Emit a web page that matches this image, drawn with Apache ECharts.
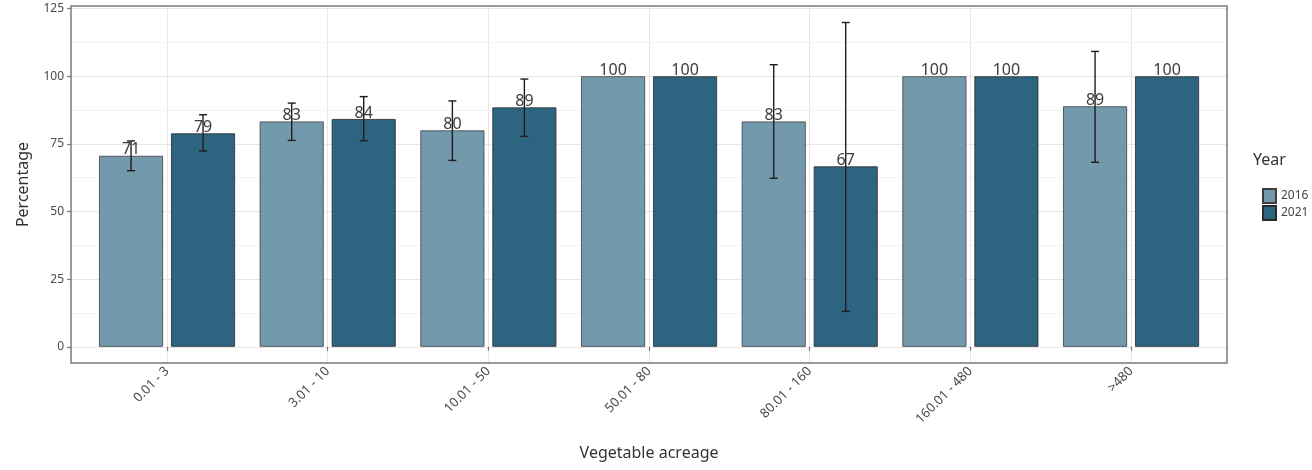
<!DOCTYPE html>
<html>
<head>
<meta charset="utf-8">
<script src="https://cdn.jsdelivr.net/npm/echarts@6/dist/echarts.min.js"></script>
<style>html,body{margin:0;padding:0;background:#fff;}#c{width:1312px;height:470px;}</style>
</head>
<body>
<div id="c"></div>
<script>
const categories = ['0.01 - 3', '3.01 - 10', '10.01 - 50', '50.01 - 80', '80.01 - 160', '160.01 - 480', '>480'];
const years = ['2016', '2021'];
const values2016 = [70.6, 83.3, 80.0, 100, 83.3, 100, 88.9];
const values2021 = [78.9, 84.2, 88.5, 100, 66.7, 100, 100];
const labels2016 = ['71', '83', '80', '100', '83', '100', '89'];
const labels2021 = ['79', '84', '89', '100', '67', '100', '100'];
const low2016 = [65.1, 76.3, 68.9, null, 62.3, null, 68.2];
const high2016 = [76.1, 90.1, 90.9, null, 104.3, null, 109.2];
const low2021 = [72.4, 76.2, 77.8, null, 13.1, null, null];
const high2021 = [85.8, 92.5, 99.0, null, 119.9, null, null];
const yTicks = [0, 25, 50, 75, 100, 125];
const yMinorTicks = [12.5, 37.5, 62.5, 87.5, 112.5];

const FONT = 'Noto Sans';
const BAR_W = 64, BAR_GAP = 8;
const OFFSET = (BAR_W + BAR_GAP) / 2;

function errData(vals, lows, highs, labels) {
  return vals.map((v, i) => [i, lows[i] == null ? '-' : lows[i], highs[i] == null ? '-' : highs[i], v, labels[i]]);
}

function makeRender(sign) {
  return function (params, api) {
    const idx = api.value(0);
    const lo = api.value(1), hi = api.value(2), v = api.value(3);
    const label = api.value(4);
    const top = api.coord([idx, v]);
    const cx = top[0] + sign * OFFSET;
    const children = [];
    if (!isNaN(lo) && !isNaN(hi) && lo !== null && hi !== null) {
      const pl = api.coord([idx, lo]);
      const ph = api.coord([idx, hi]);
      const st = { stroke: '#1e1e1e', lineWidth: 1.4 };
      children.push({ type: 'line', shape: { x1: cx, y1: pl[1], x2: cx, y2: ph[1] }, style: st });
      children.push({ type: 'line', shape: { x1: cx - 4, y1: pl[1], x2: cx + 4, y2: pl[1] }, style: st });
      children.push({ type: 'line', shape: { x1: cx - 4, y1: ph[1], x2: cx + 4, y2: ph[1] }, style: st });
    }
    children.push({
      type: 'text',
      style: {
        x: cx, y: top[1] + 2, text: String(label), align: 'center', verticalAlign: 'bottom',
        fill: '#3c3c3c', font: '16px "' + FONT + '"'
      },
      z2: 10
    });
    return { type: 'group', children: children };
  };
}

const chart = echarts.init(document.getElementById('c'), null, { renderer: 'canvas' });
const gTop = 6, gBottom = 470 - 363;
const option = {
  animation: false,
  backgroundColor: '#fff',
  textStyle: { fontFamily: FONT },
  grid: [
    { left: 71, right: 1312 - 1227, top: gTop, bottom: gBottom, show: true, borderColor: '#7a7a7a', borderWidth: 1.5, backgroundColor: 'transparent', z: 5 },
    { left: 86.7, width: 1124.7, top: gTop, bottom: gBottom }
  ],
  xAxis: [
    { gridIndex: 0, type: 'value', min: 0, max: 1, show: false },
    {
      gridIndex: 1, type: 'category', data: categories,
      name: 'Vegetable acreage', nameLocation: 'middle', nameGap: 82,
      nameTextStyle: { fontSize: 16, color: '#333', fontFamily: FONT },
      axisLine: { show: false },
      axisTick: { show: true, alignWithLabel: true, length: 4, lineStyle: { color: '#7a7a7a', width: 1.2 } },
      axisLabel: { rotate: 45, fontSize: 13, color: '#4a4a4a', margin: 6, fontFamily: FONT },
      splitLine: { show: true, alignWithLabel: true, lineStyle: { color: '#e6e6e6', width: 1 } }
    }
  ],
  yAxis: [
    {
      gridIndex: 0, type: 'value', min: -6, max: 126,
      axisLabel: {
        fontSize: 12, color: '#4a4a4a', margin: 7, fontFamily: FONT,
        customValues: yTicks
      },
      axisTick: { show: true, length: 4, lineStyle: { color: '#7a7a7a', width: 1.2 }, customValues: yTicks },
      axisLine: { show: false },
      name: 'Percentage', nameLocation: 'middle', nameGap: 40, nameRotate: 90,
      nameTextStyle: { fontSize: 16, color: '#333', fontFamily: FONT },
      splitLine: { show: false }
    },
    {
      gridIndex: 1, type: 'value', min: -6, max: 126, show: false,
      splitLine: { show: false }
    }
  ],
  legend: {
    orient: 'vertical', left: 1257, top: 183, itemWidth: 13, itemHeight: 14, itemGap: 1,
    data: years, textStyle: { fontSize: 12, color: '#444', fontFamily: FONT, padding: [0, 0, 0, 0] },
    icon: 'rect'
  },
  graphic: [
    { type: 'text', left: 1253, top: 152, style: { text: 'Year', font: '16px "' + FONT + '"', fill: '#333' } }
  ],
  series: [
    {
      type: 'line', xAxisIndex: 0, yAxisIndex: 0, silent: true, data: [], z: 0, zlevel: 0,
      markLine: {
        symbol: 'none', silent: true, label: { show: false }, z: 0,
        lineStyle: { color: '#f3f3f3', type: 'solid', width: 1 },
        data: yMinorTicks.map(v => ({ yAxis: v }))
      }
    },
    {
      type: 'line', xAxisIndex: 0, yAxisIndex: 0, silent: true, data: [], z: 0, zlevel: 0,
      markLine: {
        symbol: 'none', silent: true, label: { show: false }, z: 0,
        lineStyle: { color: '#e6e6e6', type: 'solid', width: 1 },
        data: yTicks.map(v => ({ yAxis: v }))
      }
    },
    {
      name: '2016', type: 'bar', xAxisIndex: 1, yAxisIndex: 1, data: values2016,
      barWidth: BAR_W, barGap: (BAR_GAP / BAR_W * 100) + '%',
      itemStyle: { color: '#729aac', borderColor: '#3d3d3d', borderWidth: 0.8 }, z: 3
    },
    {
      name: '2021', type: 'bar', xAxisIndex: 1, yAxisIndex: 1, data: values2021,
      barWidth: BAR_W, barGap: (BAR_GAP / BAR_W * 100) + '%',
      itemStyle: { color: '#2d6580', borderColor: '#2a2a2a', borderWidth: 0.8 }, z: 3
    },
    {
      type: 'custom', xAxisIndex: 1, yAxisIndex: 1, clip: false, silent: true, z: 4,
      renderItem: makeRender(-1), data: errData(values2016, low2016, high2016, labels2016),
      encode: { x: 0, y: [1, 2, 3] }
    },
    {
      type: 'custom', xAxisIndex: 1, yAxisIndex: 1, clip: false, silent: true, z: 4,
      renderItem: makeRender(1), data: errData(values2021, low2021, high2021, labels2021),
      encode: { x: 0, y: [1, 2, 3] }
    }
  ]
};
chart.setOption(option);
</script>
</body>
</html>
